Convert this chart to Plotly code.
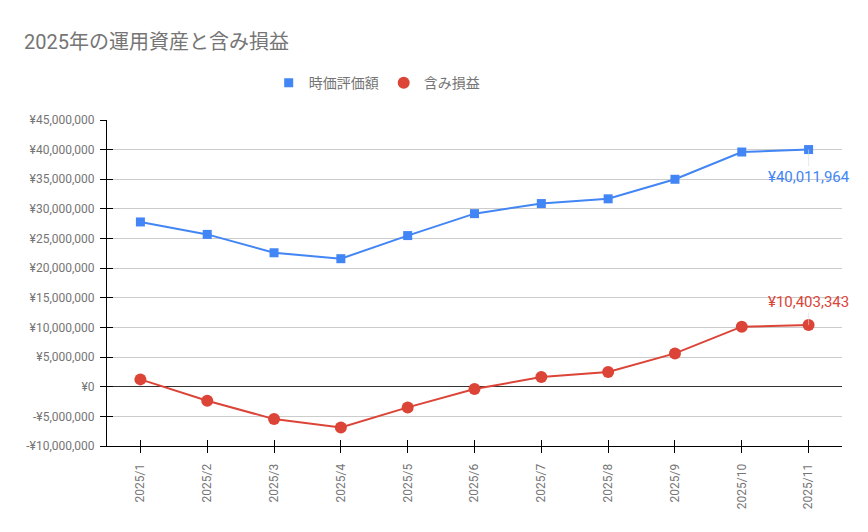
import plotly.graph_objects as go

months = ["2025/1", "2025/2", "2025/3", "2025/4", "2025/5", "2025/6",
          "2025/7", "2025/8", "2025/9", "2025/10", "2025/11"]
market_value = [27800000, 25700000, 22600000, 21600000, 25500000, 29200000,
                30900000, 31700000, 35000000, 39600000, 40011964]
unrealized = [1240000, -2360000, -5460000, -6870000, -3490000, -390000,
              1640000, 2480000, 5620000, 10130000, 10403343]
y_tick_vals = [-10000000, -5000000, 0, 5000000, 10000000, 15000000, 20000000,
               25000000, 30000000, 35000000, 40000000, 45000000]
y_tick_text = ["-¥10,000,000", "-¥5,000,000", "¥0", "¥5,000,000", "¥10,000,000",
               "¥15,000,000", "¥20,000,000", "¥25,000,000", "¥30,000,000",
               "¥35,000,000", "¥40,000,000", "¥45,000,000"]

BLUE = "#4285f4"
RED = "#db4437"
GREY = "#757575"
FONT = "Roboto, 'Noto Sans CJK JP', sans-serif"

# the page adds an 8px body margin, so the figure is 8px smaller and offsets are shifted
W, H = 860, 524
X_RANGE = [-0.5, len(months) - 0.5]
Y_RANGE = [-10000000, 45000000]

fig = go.Figure()
fig.add_trace(go.Scatter(x=months, y=market_value, name="時価評価額", mode="lines+markers",
                         line=dict(color=BLUE, width=2), showlegend=False,
                         marker=dict(symbol="square", size=9, color=BLUE)))
fig.add_trace(go.Scatter(x=months, y=unrealized, name="含み損益", mode="lines+markers",
                         line=dict(color=RED, width=2), showlegend=False,
                         marker=dict(symbol="circle", size=12, color=RED)))
# legend-only entries (marker only, as in the reference); placed on the overlay axes
fig.add_trace(go.Scatter(x=[None], y=[None], name="時価評価額", mode="markers",
                         xaxis="x2", yaxis="y2",
                         marker=dict(symbol="square", size=9, color=BLUE)))
fig.add_trace(go.Scatter(x=[None], y=[None], name="含み損益", mode="markers",
                         xaxis="x2", yaxis="y2",
                         marker=dict(symbol="circle", size=12, color=RED)))

def yen(v):
    return ("-¥" if v < 0 else "¥") + f"{abs(v):,}"

fig.add_annotation(x=months[-1], y=market_value[-1], text=yen(market_value[-1]),
                   showarrow=True, arrowhead=0, arrowwidth=1, arrowcolor="rgba(220,220,220,0.6)",
                   ax=0, ay=27, font=dict(color=BLUE, size=15, family=FONT))
fig.add_annotation(x=months[-1], y=unrealized[-1], text=yen(unrealized[-1]),
                   showarrow=True, arrowhead=0, arrowwidth=1, arrowcolor="rgba(220,220,220,0.6)",
                   ax=0, ay=-23, font=dict(color=RED, size=15, family=FONT))

fig.update_layout(
    width=W, height=H,
    margin=dict(l=99, r=26, t=112, b=86),
    paper_bgcolor="white", plot_bgcolor="white",
    font=dict(family=FONT, color=GREY),
    title=dict(text="2025年の運用資産と含み損益", x=16/W, xanchor="left", xref="container",
               y=1 - 34/H, yanchor="middle", yref="container",
               font=dict(size=20, color=GREY, family=FONT)),
    legend=dict(orientation="h", x=0.22, xanchor="left", y=1.113, yanchor="middle",
                font=dict(size=14, color=GREY, family=FONT), itemwidth=30),
    showlegend=True,
    xaxis=dict(type="category", range=X_RANGE,
               showgrid=False, showline=True, linecolor="black", linewidth=1,
               ticks="outside", ticklen=6, tickcolor="black", tickangle=-90,
               tickfont=dict(size=12, color=GREY), ticklabelstandoff=6),
    yaxis=dict(range=Y_RANGE, tickvals=y_tick_vals, ticktext=y_tick_text,
               showgrid=True, gridcolor="#cccccc", gridwidth=1,
               zeroline=True, zerolinecolor="#333333", zerolinewidth=1,
               showline=True, linecolor="black", linewidth=1,
               ticks="outside", ticklen=6, tickcolor="black",
               tickfont=dict(size=12, color=GREY), ticklabelstandoff=3),
    # overlay axes: supply the inner half of the tick marks that cross the axis lines
    xaxis2=dict(type="category", categoryarray=months, categoryorder="array",
                range=X_RANGE, overlaying="x", side="bottom",
                showgrid=False, showline=False, zeroline=False, showticklabels=False,
                tickmode="array", tickvals=months,
                ticks="inside", ticklen=6, tickcolor="black"),
    yaxis2=dict(range=Y_RANGE, overlaying="y", side="left",
                tickvals=y_tick_vals, showgrid=False, showline=False, zeroline=False,
                showticklabels=False, ticks="inside", ticklen=6, tickcolor="black"),
)

fig.write_html("out.html")
